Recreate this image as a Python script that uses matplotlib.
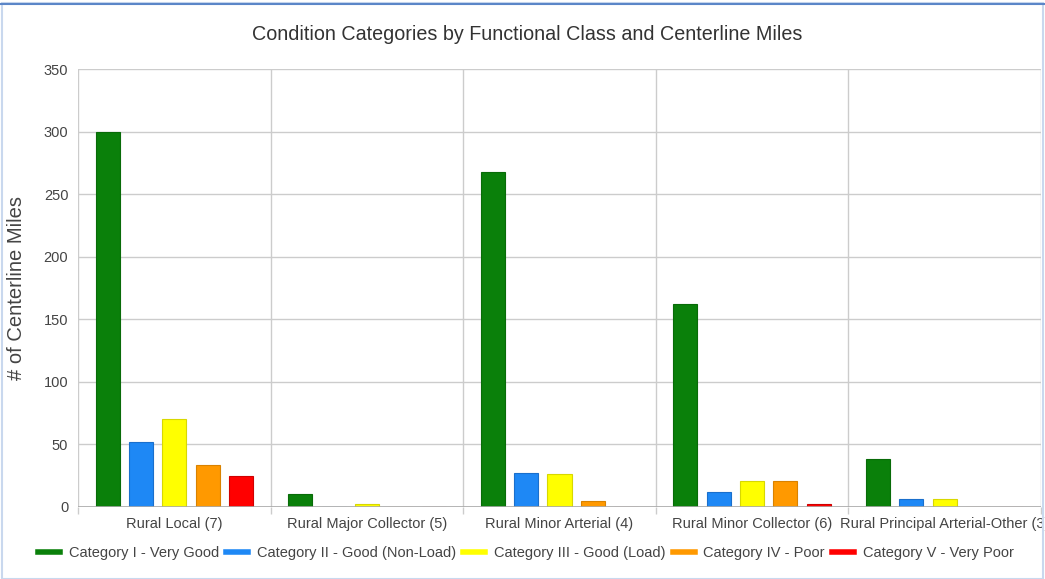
import matplotlib
matplotlib.use("Agg")
import matplotlib.pyplot as plt
from matplotlib.lines import Line2D
from matplotlib.patches import Rectangle
import numpy as np

plt.rcParams['font.family'] = ['Liberation Sans', 'DejaVu Sans']

# Functional classes (x categories)
classes = [
    "Rural Local (7)",
    "Rural Major Collector (5)",
    "Rural Minor Arterial (4)",
    "Rural Minor Collector (6)",
    "Rural Principal Arterial-Other (3)",
]

# Condition categories (series)
series_names = [
    "Category I - Very Good",
    "Category II - Good (Non-Load)",
    "Category III - Good (Load)",
    "Category IV - Poor",
    "Category V - Very Poor",
]
series_colors = ["#0a800a", "#1e88f5", "#ffff00", "#ff9900", "#ff0000"]
edge_colors = ["#086b08", "#1a6fcc", "#d8d800", "#d98200", "#d00000"]

# Centerline miles per class, one list per condition category
cat_i = [300, 10.5, 268, 162, 38.5]
cat_ii = [52, 0, 27.5, 12, 6.5]
cat_iii = [70, 2.5, 26.5, 21, 6.5]
cat_iv = [33.5, 0, 5, 21, 0]
cat_v = [25, 0, 0, 2, 0]
values = [cat_i, cat_ii, cat_iii, cat_iv, cat_v]

y_ticks = [0, 50, 100, 150, 200, 250, 300, 350]

fig = plt.figure(figsize=(10.45, 5.79), dpi=100)
fig.patch.set_facecolor("white")
ax = fig.add_axes([78 / 1045, 1 - 507 / 579, (1041 - 78) / 1045, (507 - 69) / 579])

x = np.arange(len(classes))
step = 0.173
width = 0.125
for i, (vals, col, ec, name) in enumerate(zip(values, series_colors, edge_colors, series_names)):
    ax.bar(x + (i - 2) * step, vals, width=width, color=col, edgecolor=ec,
           linewidth=0.8, label=name, zorder=3)

ax.set_xlim(-0.5, len(classes) - 0.5)
ax.set_ylim(0, 350)
ax.set_yticks(y_ticks)
ax.set_yticklabels([str(t) for t in y_ticks], fontsize=10.5, color="#444444")
ax.set_xticks(x)
ax.set_xticklabels(classes, fontsize=10.5, color="#444444")
ax.set_xticks(np.arange(-0.5, len(classes), 1.0), minor=True)
ax.tick_params(axis='x', which='major', length=0, pad=7)
ax.tick_params(axis='x', which='minor', length=5, color="#cccccc", width=1)
ax.tick_params(axis='y', length=0, pad=7)

ax.grid(axis='y', which='major', color="#cccccc", linewidth=1, zorder=0)
ax.grid(axis='x', which='minor', color="#cccccc", linewidth=1, zorder=0)
for s in ax.spines.values():
    s.set_visible(False)
ax.axhline(0, color="#aaaaaa", linewidth=1.2, zorder=4)

ax.set_ylabel("# of Centerline Miles", fontsize=14.5, color="#444444", va="center")
ax.yaxis.set_label_coords((17 - 78) / 963, 0.5)

fig.text(527.5 / 1045, 1 - 35 / 579, "Condition Categories by Functional Class and Centerline Miles",
         ha="center", va="center", fontsize=14.2, color="#333333")

handles = [Line2D([0], [0], color=c, linewidth=4) for c in series_colors]
fig.legend(handles, series_names, loc="center", bbox_to_anchor=(526 / 1045, 1 - 553 / 579),
           ncol=5, frameon=False, fontsize=10.5, handlelength=1.5, handletextpad=0.6,
           columnspacing=0.5, labelcolor="#444444")

# Frame around the chart card
fig.add_artist(Rectangle((0.0015, 0.0), 0.997, 0.995, transform=fig.transFigure,
                         fill=False, edgecolor="#c9d8ee", linewidth=1.5))
fig.add_artist(Line2D([0, 1], [1 - 4 / 579, 1 - 4 / 579], transform=fig.transFigure,
                      color="#5b86c8", linewidth=1.5))

fig.savefig("out.png", dpi=100)
